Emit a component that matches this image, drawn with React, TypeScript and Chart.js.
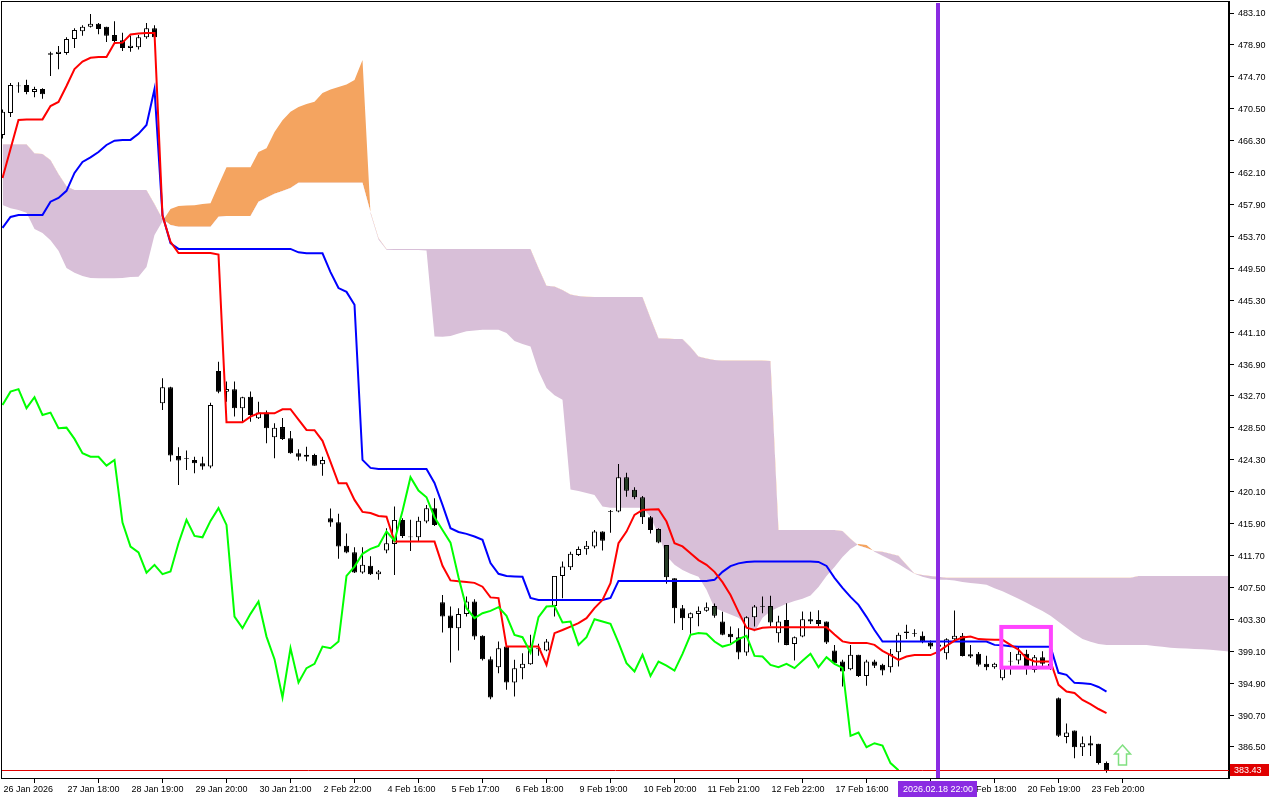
import React, { useEffect, useRef } from 'react';
import { Chart, registerables } from 'chart.js';

Chart.register(...registerables);

// ---- Candles (bar index 0..138) ----
const opens = [
  467.05, 469.94, 473.45, 473.63, 472.7, 473.1, 477.6, 477.7, 477.84, 479.68,
  480.7, 481.3, 481.7, 481.3, 480.2, 479.5, 478.5, 478.6, 479.9, 481.1,
  431.74, 433.85, 424.81, 424.5, 424.28, 423.85, 423.4, 435.99, 433.27, 433.59,
  431.09, 432.61, 429.77, 430.51, 427.27, 428.6, 427.14, 425.17, 424.95, 424.94,
  423.72, 416.61, 416.09, 412.97, 412.14, 409.45, 410.34, 409.25, 412.35, 413.23,
  416.39, 414.2, 414.11, 416.17, 417.93, 405.56, 403.8, 402.14, 404.02, 405.64,
  401.13, 398.06, 397.01, 399.72, 394.98, 396.88, 397.4, 399.38, 399.19, 405.07,
  409.02, 410.17, 411.78, 412.53, 412.88, 414.85, 417.45, 417.48, 422.01, 420.34,
  419.37, 416.74, 415.2, 413.1, 408.72, 404.77, 403.45, 404.02, 404.42, 405.07,
  403.01, 401.39, 400.95, 398.93, 403.59, 404.95, 405.07, 401.48, 403.23, 400.07,
  401.03, 403.32, 403.2, 403.01, 399.19, 397.74, 396.74, 398.63, 395.86, 397.74,
  397.31, 397.01, 398.98, 401.7, 401.5, 401.13, 400.24, 399.7, 398.85, 400.69,
  401.13, 398.7, 398.76, 397.44, 397.01, 395.56, 397.75, 397.88, 398.76, 396.65,
  398.32, 397.44, 392.93, 387.8, 388.67, 386.48, 387.0, 386.92, 384.38,
];
const highs = [
  470.4, 473.9, 474.0, 474.3, 473.4, 473.2, 478.0, 478.76, 479.9, 481.1,
  481.5, 482.97, 481.8, 481.3, 482.0, 480.5, 480.1, 480.2, 481.8, 481.5,
  435.04, 433.9, 425.95, 425.51, 424.7, 424.7, 431.8, 437.2, 434.6, 434.6,
  432.6, 433.3, 431.95, 430.8, 429.1, 429.8, 428.1, 425.7, 426.0, 425.1,
  424.7, 417.9, 417.2, 414.6, 412.8, 412.8, 411.6, 409.8, 415.3, 418.14,
  416.6, 416.4, 416.8, 418.36, 419.24, 406.52, 404.98, 404.77, 406.3, 405.95,
  401.2, 398.4, 400.38, 400.17, 397.97, 398.85, 401.26, 400.1, 400.7, 409.02,
  410.9, 412.2, 412.9, 413.6, 415.07, 414.9, 417.7, 423.76, 422.6, 420.7,
  419.55, 416.9, 415.3, 413.1, 408.72, 405.2, 404.19, 405.0, 405.51, 405.4,
  404.3, 402.35, 402.14, 403.7, 405.2, 406.3, 406.4, 403.76, 405.43, 401.05,
  404.32, 404.3, 404.5, 403.01, 399.94, 397.97, 399.94, 398.63, 397.97, 397.97,
  397.44, 399.4, 401.55, 402.6, 402.0, 401.7, 400.5, 400.5, 400.8, 404.45,
  401.5, 399.94, 399.0, 398.5, 397.6, 396.9, 399.0, 399.7, 399.3, 398.6,
  399.1, 397.6, 393.0, 389.6, 388.67, 387.87, 387.97, 386.92, 384.6,
];
const lows = [
  466.6, 469.4, 472.6, 472.4, 472.0, 471.8, 474.81, 475.7, 477.6, 478.5,
  480.1, 481.2, 480.3, 479.3, 479.3, 478.1, 478.0, 478.3, 479.7, 479.6,
  430.86, 424.06, 420.99, 422.97, 422.53, 423.0, 423.2, 433.06, 431.95, 430.0,
  429.3, 429.3, 429.68, 426.48, 424.5, 426.9, 425.1, 424.2, 424.1, 423.5,
  422.2, 415.5, 411.26, 412.0, 409.4, 409.3, 409.15, 408.5, 412.0, 409.15,
  414.0, 412.3, 413.5, 415.95, 415.6, 401.56, 397.61, 399.19, 403.67, 400.6,
  397.9, 392.8, 396.22, 394.02, 393.14, 395.43, 397.31, 398.5, 399.1, 403.67,
  406.09, 409.8, 411.65, 411.8, 412.66, 412.35, 414.7, 417.4, 419.45, 419.1,
  415.86, 414.6, 413.3, 407.97, 402.8, 401.9, 401.39, 402.4, 404.3, 403.5,
  401.2, 400.16, 398.06, 398.5, 402.35, 404.1, 402.4, 400.24, 399.9, 397.88,
  400.96, 402.7, 402.4, 400.07, 397.3, 394.45, 396.6, 395.7, 394.55, 396.9,
  395.95, 396.3, 397.1, 400.7, 401.0, 400.16, 399.4, 399.3, 398.0, 400.5,
  398.4, 398.2, 397.1, 396.6, 396.8, 395.3, 396.0, 397.4, 396.0, 396.3,
  396.9, 396.65, 387.8, 387.0, 385.03, 385.3, 385.3, 384.2, 383.1,
];
const closes = [
  470.11, 473.63, 473.55, 472.7, 473.1, 472.4, 477.8, 478.0, 479.68, 480.86,
  481.3, 481.7, 481.0, 480.1, 479.4, 478.5, 478.8, 479.9, 481.1, 479.9,
  433.85, 424.85, 424.19, 424.4, 423.85, 423.4, 431.52, 433.27, 433.6, 431.09,
  432.53, 430.2, 430.51, 428.45, 428.53, 427.05, 425.17, 424.7, 424.7, 423.53,
  424.28, 416.03, 412.88, 412.1, 409.45, 410.47, 409.25, 409.6, 413.32, 416.39,
  414.28, 414.1, 416.26, 417.93, 415.73, 403.67, 402.14, 404.02, 405.64, 401.03,
  398.06, 393.01, 399.51, 394.98, 396.88, 397.44, 399.72, 399.5, 400.38, 409.02,
  410.24, 411.92, 412.57, 412.97, 414.85, 413.66, 417.55, 422.01, 420.24, 419.37,
  416.74, 415.07, 413.4, 408.85, 404.77, 403.45, 404.11, 404.42, 404.9, 403.76,
  401.26, 400.95, 398.93, 403.59, 404.98, 405.05, 402.88, 403.01, 399.94, 400.95,
  403.32, 403.01, 402.7, 400.24, 397.53, 396.43, 398.63, 395.86, 397.74, 397.2,
  396.56, 398.76, 401.26, 401.5, 401.4, 400.38, 399.72, 400.0, 400.69, 401.13,
  398.49, 398.4, 397.31, 397.01, 397.44, 396.88, 397.85, 398.76, 397.01, 398.32,
  397.44, 396.9, 387.97, 388.4, 386.48, 387.0, 386.7, 384.38, 383.43,
];

// ---- Ichimoku lines ----
const tenkan = [
  461.39, 465.2, 469.02, 469.1, 469.1, 469.1, 470.86, 471.4, 473.5, 475.73,
  476.7, 477.2, 477.3, 477.3, 479.15, 479.2, 480.27, 480.4, 480.47, 480.47,
  456.4, 453.0, 451.5, 451.5, 451.5, 451.5, 451.5, 451.3, 429.24, 429.24,
  429.24, 429.98, 430.42, 430.42, 430.42, 430.95, 430.95, 429.6, 428.23, 428.2,
  426.8, 424.02, 421.2, 421.2, 419.02, 417.44, 417.3, 416.9, 416.8, 413.53,
  413.53, 413.53, 413.53, 413.53, 413.53, 410.34, 408.43, 408.3, 408.2, 408.1,
  407.6, 406.19, 406.1, 399.72, 399.72, 399.72, 399.72, 399.72, 397.31, 401.48,
  401.9, 402.35, 402.8, 403.45, 404.77, 405.86, 408.06, 413.32, 414.85, 417.05,
  417.7, 417.75, 417.8, 416.17, 413.32, 412.9, 412.0, 411.1, 410.47, 409.55,
  408.2, 406.5, 404.28, 402.2, 401.9, 402.2, 402.27, 402.27, 402.27, 402.27,
  402.27, 402.27, 402.27, 402.27, 401.3, 400.4, 400.2, 400.2, 400.2, 399.94,
  399.15, 398.6, 397.97, 398.4, 398.6, 398.6, 398.6, 399.06, 399.8, 400.5,
  400.9, 401.04, 400.7, 400.64, 400.6, 400.6, 399.94, 399.3, 398.2, 397.75,
  397.75, 397.75, 394.68, 393.8, 393.6, 392.7, 392.14, 391.5, 390.96,
];
const kijun = [
  454.81, 456.26, 456.5, 456.5, 456.5, 456.5, 458.27, 458.76, 459.7, 462.05,
  463.5, 464.1, 464.8, 465.73, 466.3, 466.4, 466.4, 467.2, 468.36, 473.1,
  456.5, 452.8, 452.05, 452.05, 452.05, 452.05, 452.05, 452.05, 452.05, 452.05,
  452.05, 452.05, 452.05, 452.05, 452.05, 452.05, 452.05, 451.6, 451.48, 451.48,
  451.48, 449.0, 446.9, 446.4, 444.7, 424.28, 423.23, 423.1, 423.1, 423.1,
  423.1, 423.1, 423.1, 423.1, 421.26, 418.36, 415.3, 414.8, 414.55, 414.2,
  413.76, 410.7, 409.3, 409.0, 408.95, 408.9, 406.13, 405.86, 405.86, 405.86,
  405.86, 405.86, 405.86, 405.86, 405.86, 405.86, 406.13, 408.36, 408.36, 408.36,
  408.36, 408.36, 408.36, 408.36, 408.36, 408.36, 408.36, 408.36, 408.36, 408.5,
  409.55, 410.3, 410.67, 410.86, 410.9, 410.9, 410.9, 410.9, 410.9, 410.9,
  410.9, 410.9, 410.86, 410.33, 408.76, 407.45, 406.26, 405.2, 403.63, 401.9,
  400.38, 400.38, 400.38, 400.38, 400.38, 400.38, 400.38, 400.38, 400.38, 400.38,
  400.38, 400.38, 400.38, 400.38, 399.94, 399.88, 399.75, 399.68, 399.68, 399.68,
  399.68, 399.68, 396.26, 396.0, 394.94, 394.88, 394.8, 394.4, 393.8,
];
// Senkou spans as plotted (already shifted 26 bars ahead), index 0..154
const spanA = [
  457.84, 457.4, 457.18, 456.8, 454.68, 454.15, 453.2, 451.8, 449.55, 448.9,
  448.5, 448.23, 448.19, 448.19, 448.19, 448.23, 448.36, 448.4, 449.68, 453.9,
  455.7, 457.3, 457.7, 457.77, 457.8, 457.97, 458.06, 460.47, 462.8, 462.8,
  462.8, 462.8, 464.8, 465.3, 467.44, 469.0, 470.11, 470.73, 471.13, 471.43,
  472.57, 473.03, 473.36, 473.69, 474.28, 476.92, 456.7, 453.3, 451.95, 451.9,
  451.9, 451.9, 451.9, 451.85, 440.51, 440.5, 440.6, 440.93, 441.2, 441.3,
  441.4, 441.4, 441.4, 441.0, 439.94, 439.55, 439.2, 436.0, 433.76, 432.8,
  432.2, 420.4, 420.2, 419.94, 419.68, 418.14, 418.0, 418.0, 418.0, 418.0,
  418.0, 416.8, 414.4, 411.65, 410.5, 409.8, 409.3, 408.9, 407.2, 404.8,
  404.35, 403.95, 403.5, 402.57, 401.65, 403.5, 404.35, 404.88, 405.34, 405.73,
  406.0, 406.45, 407.57, 409.0, 410.2, 411.5, 412.57, 413.23, 413.1, 412.2,
  411.66, 411.13, 410.6, 409.94, 409.3, 408.9, 408.65, 408.5, 408.5, 408.4,
  408.23, 408.1, 407.97, 407.84, 407.4, 407.0, 406.5, 406.0, 405.47, 404.94,
  404.4, 403.76, 402.97, 402.2, 401.4, 400.73, 400.34, 400.07, 399.94, 399.94,
  399.94, 399.94, 399.94, 399.94, 399.8, 399.68, 399.55, 399.5, 399.45, 399.4,
  399.35, 399.3, 399.2, 399.1, 399.0,
];
const spanB = [
  465.82, 465.82, 465.82, 465.82, 464.64, 464.55, 463.76, 461.9, 460.3, 459.8,
  459.8, 459.8, 459.8, 459.8, 459.8, 459.8, 459.8, 459.8, 459.8, 457.97,
  456.0, 455.2, 454.98, 454.98, 454.98, 454.98, 454.98, 456.3, 456.4, 456.4,
  456.4, 456.4, 458.27, 458.8, 459.3, 459.68, 460.07, 460.77, 460.77, 460.77,
  460.77, 460.77, 460.77, 460.77, 460.77, 460.77, 456.9, 453.5, 452.05, 452.05,
  452.05, 452.05, 452.05, 452.05, 452.05, 452.05, 452.05, 452.05, 452.05, 452.05,
  452.05, 452.05, 452.05, 452.05, 452.05, 452.05, 452.05, 449.55, 447.2, 447.1,
  446.65, 446.06, 445.86, 445.77, 445.73, 445.73, 445.73, 445.73, 445.73, 445.73,
  445.73, 442.97, 440.3, 440.27, 440.2, 440.2, 439.15, 437.9, 437.64, 437.44,
  437.37, 437.37, 437.37, 437.37, 437.37, 437.37, 437.3, 415.07, 415.07, 415.07,
  415.07, 415.07, 415.07, 415.07, 415.07, 414.94, 413.9, 413.03, 412.7, 412.3,
  412.2, 411.92, 411.66, 410.5, 409.35, 409.15, 409.02, 408.9, 408.76, 408.76,
  408.76, 408.76, 408.76, 408.76, 408.76, 408.76, 408.76, 408.76, 408.76, 408.76,
  408.76, 408.76, 408.76, 408.76, 408.76, 408.76, 408.76, 408.76, 408.76, 408.76,
  408.76, 408.76, 409.0, 409.0, 409.0, 409.0, 409.0, 409.0, 409.0, 409.0,
  409.0, 409.0, 409.0, 409.0, 409.0,
];
const chikouShift = 26;

// ---- Axes ----
const xTickBars = [0, 8, 16, 24, 32, 40, 48, 56, 64, 72, 80, 88, 96, 104, 112, 120, 128, 136];
const xTickLabels = [
  '26 Jan 2026', '27 Jan 18:00', '28 Jan 19:00', '29 Jan 20:00', '30 Jan 21:00', '2 Feb 22:00',
  '4 Feb 16:00', '5 Feb 17:00', '6 Feb 18:00', '9 Feb 19:00', '10 Feb 20:00', '11 Feb 21:00',
  '12 Feb 22:00', '17 Feb 16:00', '18 Feb 17:00', '19 Feb 18:00', '20 Feb 19:00', '23 Feb 20:00',
];
const yTickValues = [
  483.1, 478.9, 474.7, 470.5, 466.3, 462.1, 457.9, 453.7, 449.5, 445.3, 441.1, 436.9,
  432.7, 428.5, 424.3, 420.1, 415.9, 411.7, 407.5, 403.3, 399.1, 394.9, 390.7, 386.5,
];
const X_MIN = -0.1875;
const X_MAX = 153.3125;
const Y_MIN = 382.42;
const Y_MAX = 484.68;

// ---- Annotations ----
const lastPrice = 383.43;
const markerBar = 117;
const markerLabel = '2026.02.18 22:00';
const boxBars = [124.85, 131.05];
const boxPrices = [396.95, 402.3];
const arrowBar = 140;
const arrowPrices = [384.13, 386.76];

const FONT = 'Liberation Sans';

export default function App() {
  const ref = useRef<HTMLCanvasElement>(null);

  useEffect(() => {
    const canvas = ref.current;
    if (!canvas) return;
    const idx = closes.map((_, i) => i);
    const wickData = idx.map((i) => ({ x: i, y: [lows[i], highs[i]] }));
    const bodyData = idx.map((i) => ({
      x: i,
      y: [Math.min(opens[i], closes[i]), Math.max(opens[i], closes[i])],
    }));
    const bodyColors = idx.map((i) => {
      if (closes[i] >= opens[i]) return '#ffffff';
      const lo = Math.min(spanA[i], spanB[i]);
      const hi = Math.max(spanA[i], spanB[i]);
      return opens[i] > lo && opens[i] < hi ? '#263d26' : '#000000';
    });
    const labelMap = new Map<number, string>(xTickBars.map((b, k) => [b, xTickLabels[k]]));

    const overlay = {
      id: 'overlay',
      afterDraw(chart: any) {
        const { ctx, chartArea: ca } = chart;
        const x = chart.scales.x;
        const y = chart.scales.y;
        ctx.save();
        // frame
        ctx.strokeStyle = '#000';
        ctx.lineWidth = 1;
        ctx.strokeRect(ca.left + 0.5, ca.top + 0.5, ca.right - ca.left - 1, ca.bottom - ca.top);
        // last price line + label
        const py = Math.round(y.getPixelForValue(lastPrice)) + 0.5;
        ctx.strokeStyle = '#e00000';
        ctx.beginPath();
        ctx.moveTo(ca.left + 1, py);
        ctx.lineTo(ca.right, py);
        ctx.stroke();
        ctx.fillStyle = '#e00000';
        ctx.fillRect(ca.right + 1, py - 6.5, 39, 12);
        ctx.fillStyle = '#ffffff';
        ctx.font = `9px "${FONT}"`;
        ctx.textBaseline = 'middle';
        ctx.textAlign = 'left';
        ctx.fillText(lastPrice.toFixed(2), ca.right + 5, py + 0.5);
        // pink rectangle
        const bx0 = x.getPixelForValue(boxBars[0]);
        const bx1 = x.getPixelForValue(boxBars[1]);
        const by0 = y.getPixelForValue(boxPrices[1]);
        const by1 = y.getPixelForValue(boxPrices[0]);
        ctx.strokeStyle = '#ff44ff';
        ctx.lineWidth = 4;
        ctx.strokeRect(bx0, by0, bx1 - bx0, by1 - by0);
        // up arrow
        const ax = x.getPixelForValue(arrowBar);
        const aTop = y.getPixelForValue(arrowPrices[1]);
        const aBot = y.getPixelForValue(arrowPrices[0]);
        const headH = (aBot - aTop) * 0.45;
        ctx.beginPath();
        ctx.moveTo(ax, aTop);
        ctx.lineTo(ax + 8, aTop + headH);
        ctx.lineTo(ax + 4, aTop + headH);
        ctx.lineTo(ax + 4, aBot);
        ctx.lineTo(ax - 4, aBot);
        ctx.lineTo(ax - 4, aTop + headH);
        ctx.lineTo(ax - 8, aTop + headH);
        ctx.closePath();
        ctx.fillStyle = '#ffffff';
        ctx.fill();
        ctx.strokeStyle = '#80e080';
        ctx.lineWidth = 1.5;
        ctx.stroke();
        // purple vertical marker
        const mx = Math.round(x.getPixelForValue(markerBar));
        ctx.fillStyle = '#8a2be2';
        ctx.fillRect(mx - 2, ca.top + 2, 4, ca.bottom - ca.top - 2);
        ctx.fillRect(mx - 40, ca.bottom + 3, 79, 16);
        ctx.fillStyle = '#ffffff';
        ctx.textAlign = 'center';
        ctx.fillText(markerLabel, mx, ca.bottom + 11.5);
        ctx.restore();
      },
    };

    const lineBase = {
      type: 'line' as const,
      pointRadius: 0,
      borderWidth: 2,
      tension: 0,
      fill: false,
    };

    const chart = new Chart(canvas, {
      type: 'bar',
      data: {
        datasets: [
          {
            ...lineBase,
            label: 'Senkou A',
            data: spanA.map((v, i) => ({ x: i, y: v })),
            borderWidth: 0,
            borderColor: 'rgba(0,0,0,0)',
            fill: { target: 1, above: '#f4a460', below: '#d8bfd8' },
            order: 10,
          },
          {
            ...lineBase,
            label: 'Senkou B',
            data: spanB.map((v, i) => ({ x: i, y: v })),
            borderWidth: 0,
            borderColor: 'rgba(0,0,0,0)',
            order: 9,
          },
          {
            type: 'bar' as const,
            label: 'wicks',
            data: wickData as any,
            backgroundColor: '#000000',
            barThickness: 1,
            grouped: false,
            inflateAmount: 0,
            borderWidth: 0,
            order: 6,
          },
          {
            type: 'bar' as const,
            label: 'bodies',
            data: bodyData as any,
            backgroundColor: bodyColors,
            borderColor: '#000000',
            borderWidth: 1,
            borderSkipped: false,
            barThickness: 5,
            grouped: false,
            inflateAmount: 0,
            order: 5,
          },
          {
            ...lineBase,
            label: 'Kijun',
            data: kijun.map((v, i) => ({ x: i, y: v })),
            borderColor: '#0000ff',
            order: 3,
          },
          {
            ...lineBase,
            label: 'Tenkan',
            data: tenkan.map((v, i) => ({ x: i, y: v })),
            borderColor: '#ff0000',
            order: 2,
          },
          {
            ...lineBase,
            label: 'Chikou',
            data: closes.slice(chikouShift).map((v, k) => ({ x: k, y: v })),
            borderColor: '#00ff00',
            order: 1,
          },
        ] as any,
      },
      options: {
        responsive: false,
        animation: false,
        events: [],
        layout: { padding: { left: 1, top: 1, right: 0, bottom: 0 } },
        plugins: {
          legend: { display: false },
          tooltip: { enabled: false },
        },
        scales: {
          x: {
            type: 'linear',
            min: X_MIN,
            max: X_MAX,
            offset: false,
            afterBuildTicks: (s: any) => {
              s.ticks = xTickBars.map((v) => ({ value: v }));
            },
            afterFit: (s: any) => {
              s.height = 22;
              s.paddingLeft = 0;
              s.paddingRight = 0;
              s.paddingTop = 0;
              s.paddingBottom = 0;
            },
            ticks: {
              autoSkip: false,
              maxRotation: 0,
              minRotation: 0,
              align: 'start',
              labelOffset: 1,
              padding: 1,
              color: '#000000',
              font: { family: FONT, size: 9 },
              callback: (v: any) => labelMap.get(Number(v)) ?? '',
            },
            grid: { drawOnChartArea: false, drawTicks: true, tickLength: 5, color: '#000000' },
            border: { display: true, color: '#000000' },
          },
          y: {
            type: 'linear',
            position: 'right',
            min: Y_MIN,
            max: Y_MAX,
            afterBuildTicks: (s: any) => {
              s.ticks = yTickValues.map((v) => ({ value: v }));
            },
            afterFit: (s: any) => {
              s.width = 51;
              s.paddingTop = 0;
              s.paddingBottom = 0;
              s.paddingLeft = 0;
              s.paddingRight = 0;
            },
            ticks: {
              autoSkip: false,
              padding: 4,
              labelOffset: 1,
              color: '#000000',
              font: { family: FONT, size: 9 },
              callback: (v: any) => Number(v).toFixed(2),
            },
            grid: { drawOnChartArea: false, drawTicks: true, tickLength: 5, color: '#000000' },
            border: { display: true, color: '#000000' },
          },
        },
      } as any,
      plugins: [overlay],
    });

    return () => chart.destroy();
  }, []);

  return (
    <div style={{ position: 'fixed', left: 0, top: 0, width: 1280, height: 800, background: '#ffffff' }}>
      <canvas ref={ref} width={1280} height={800} style={{ display: 'block' }} />
    </div>
  );
}
